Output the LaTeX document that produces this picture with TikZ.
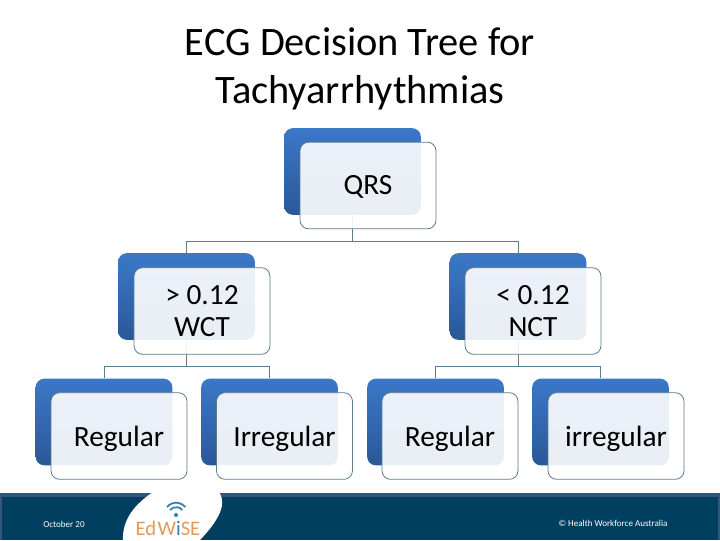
\documentclass[tikz,border=0pt]{standalone}
\usepackage{fontspec}
\setmainfont{Carlito}
\definecolor{linec}{HTML}{5A7C8C}
\definecolor{foot}{HTML}{003F5F}
\definecolor{band}{HTML}{33557F}
\definecolor{orangeL}{HTML}{E59A5A}
\definecolor{wifi}{HTML}{2F7FB5}
\definecolor{backtop}{HTML}{3B78C8}
\definecolor{backbot}{HTML}{2A5898}
\newcommand\lowr[2]{\raisebox{-#1pt}[0pt][0pt]{#2}}
\tikzset{
  x=0.75pt,y=-0.75pt,
  backbox/.style={rectangle,rounded corners=6.5pt,minimum width=102.5pt,minimum height=65pt,inner sep=0pt,top color=backtop,bottom color=backbot,draw=none},
  frontbox/.style={rectangle,rounded corners=6.5pt,minimum width=102pt,minimum height=65pt,inner sep=0pt,fill=white,fill opacity=0.9,draw=linec,line width=0.6pt,text opacity=1,align=center,font=\fontsize{22}{24}\selectfont},
  conn/.style={draw=linec,line width=0.7pt},
  foottext/.style={text=white,inner sep=0pt,font=\fontsize{6.8}{8}\selectfont}
}
\begin{document}
\begin{tikzpicture}
\useasboundingbox (0,0) rectangle (720,540);
\fill[white] (0,0) rectangle (720,540);
\node[inner sep=0pt,align=center,font=\fontsize{30.3}{36}\selectfont] (title) at (360,69) {ECG Decision Tree for\\Tachyarrhythmias};
% footer
\fill[foot] (0,493) rectangle (720,540);
\fill[band] (0,493) rectangle (720,497);
\fill[band] (0,493) rectangle (2,540);
\fill[band] (718,493) rectangle (720,540);
\fill[white] (123,540) .. controls (122,520) and (135,503) .. (155,491) -- (218,491) .. controls (226,500) and (224,515) .. (200,540) -- cycle;
\node[foottext] (date) at (64,524) {October 20};
\node[foottext] (copy) at (613,523) {© Health Workforce Australia};
\node[inner sep=0pt,text=orangeL,font=\fontsize{15.5}{16}\selectfont] (logo) at (168,528) {Ed\kern1pt W\textcolor{wifi}{i}SE};
\coordinate (wf) at (176,515);
\draw[wifi,line width=1.3pt] (wf) ++(-6,-5) arc[start angle=220,end angle=320,radius=8];
\draw[wifi,line width=1.3pt] (wf) ++(-9,-8) arc[start angle=220,end angle=320,radius=12];
\fill[wifi] (wf) circle[radius=2];
% back boxes
\node[backbox] (q) at (352.5,171.5) {};
\node[backbox] (w) at (186.5,296.5) {};
\node[backbox] (n) at (518,296.5) {};
\node[backbox] (a) at (104,422) {};
\node[backbox] (b) at (269.5,422) {};
\node[backbox] (c) at (435.5,422) {};
\node[backbox] (d) at (600.5,422) {};
% connectors
\coordinate (bq) at (352.5,241);
\coordinate (bw) at (186.5,366);
\coordinate (bn) at (518,366);
\draw[conn] (q.south) -- (bq);
\draw[conn] (bq) -| (w.north);
\draw[conn] (bq) -| (n.north);
\draw[conn] (w.south) -- (bw);
\draw[conn] (bw) -| (a.north);
\draw[conn] (bw) -| (b.north);
\draw[conn] (n.south) -- (bn);
\draw[conn] (bn) -| (c.north);
\draw[conn] (bn) -| (d.north);
% front boxes
\node[frontbox] (qf) at (368,185.5) {\lowr{7.1}{QRS}};
\node[frontbox] (wf2) at (202,311) {> 0.12\\WCT};
\node[frontbox] (nf) at (533,311) {< 0.12\\NCT};
\node[frontbox] (af) at (119,436) {\lowr{7.5}{Regular}};
\node[frontbox] (bf) at (284.5,436) {\lowr{7.5}{Irregular}};
\node[frontbox] (cf) at (450,436) {\lowr{7.5}{Regular}};
\node[frontbox] (df) at (616,436) {\lowr{7.5}{irregular}};
\end{tikzpicture}
\end{document}
